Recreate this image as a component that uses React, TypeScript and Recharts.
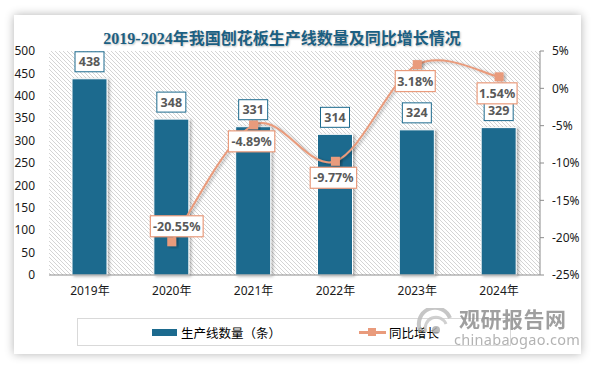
import { ComposedChart, Bar, Line, XAxis, YAxis, CartesianGrid, Legend } from 'recharts'

const years = ['2019年', '2020年', '2021年', '2022年', '2023年', '2024年']
const lineCounts = [438, 348, 331, 314, 324, 329]
const growth = [null, -20.55, -4.89, -9.77, 3.18, 1.54]
const leftTicks = [0, 50, 100, 150, 200, 250, 300, 350, 400, 450, 500]
const rightTicks = [-25, -20, -15, -10, -5, 0, 5]

const data = years.map((year, i) => ({ year, count: lineCounts[i], growth: growth[i] }))

const BAR = '#1c6a8e'
const LINE = '#e99b7c'
const FONT = "'Noto Sans', 'Noto Sans CJK SC', sans-serif"
// growth labels that sit above their point
const labelAbove = [1]

// office-style smoothed line (catmull-rom through the points)
function smoothCurve(context: any) {
  let pts: number[][] = []
  return {
    areaStart() {},
    areaEnd() {},
    lineStart() { pts = [] },
    point(x: number, y: number) { pts.push([+x, +y]) },
    lineEnd() {
      const n = pts.length
      if (!n) return
      context.moveTo(pts[0][0], pts[0][1])
      for (let i = 0; i < n - 1; i++) {
        const p0 = pts[i - 1] || pts[i]
        const p1 = pts[i]
        const p2 = pts[i + 1]
        const p3 = pts[i + 2] || pts[i + 1]
        context.bezierCurveTo(
          p1[0] + (p2[0] - p0[0]) / 6, p1[1] + (p2[1] - p0[1]) / 6,
          p2[0] - (p3[0] - p1[0]) / 6, p2[1] - (p3[1] - p1[1]) / 6,
          p2[0], p2[1]
        )
      }
    },
  }
}

function BarShape(props: any) {
  const { x, y, width, height } = props
  return <rect x={x} y={y} width={width} height={height} fill={BAR} stroke="#fff" strokeWidth={1} filter="url(#shadow)" />
}

function BarLabel(props: any) {
  const { x, y, width, value } = props
  const w = String(value).length * 7 + 8
  const h = 20
  const cx = x + width / 2
  const top = y - 7 - h
  return (
    <g>
      <rect x={cx - w / 2} y={top} width={w} height={h} fill="#fff" stroke={BAR} strokeWidth={1} />
      <text x={cx} y={top + h / 2 + 4.5} textAnchor="middle" fontSize={12.5} fontWeight="bold" fill="#595959" fontFamily={FONT}>{value}</text>
    </g>
  )
}

function GrowthLabel(props: any) {
  const { x, y, value, index } = props
  if (value == null || x == null || y == null) return null
  const txt = `${value.toFixed(2)}%`
  const w = txt.length * 6.4 + 8
  const h = 21
  const above = labelAbove.includes(index)
  const cx = above ? x + 5 : x - 2
  const top = above ? y - 5 - h : y + 6
  return (
    <g>
      <rect x={cx - w / 2} y={top} width={w} height={h} fill="#fff" stroke={LINE} strokeWidth={1.2} />
      <text x={cx} y={top + h / 2 + 4.5} textAnchor="middle" fontSize={12.5} fontWeight="bold" fill="#595959" fontFamily={FONT}>{txt}</text>
    </g>
  )
}

function SquareDot(props: any) {
  const { cx, cy } = props
  if (cx == null || cy == null) return null
  return <rect x={cx - 4.5} y={cy - 4.5} width={9} height={9} fill={LINE} filter="url(#shadow)" />
}

function LegendBox() {
  return (
    <div style={{ boxSizing: 'border-box', height: 28, border: '1px solid #d9d9d9', position: 'relative', fontFamily: FONT, fontSize: 12.5, color: '#000' }}>
      <div style={{ position: 'absolute', left: 74, top: 10, width: 25, height: 7, background: BAR }} />
      <span style={{ position: 'absolute', left: 103, top: 4 }}>生产线数量（条）</span>
      <div style={{ position: 'absolute', left: 281, top: 12, width: 27, height: 2.5, background: LINE }} />
      <div style={{ position: 'absolute', left: 290, top: 9, width: 8, height: 8, background: LINE }} />
      <span style={{ position: 'absolute', left: 311, top: 4 }}>同比增长</span>
    </div>
  )
}

export default function App() {
  return (
    <div style={{ position: 'absolute', left: 0, top: 0, width: 594, height: 366, background: '#fff', overflow: 'hidden' }}>
      <div style={{ position: 'absolute', left: 14, top: 15, width: 567, height: 339, background: '#fff', boxShadow: '0 0 9px rgba(0,0,0,0.3)' }} />
      <div style={{ position: 'absolute', left: 0, top: 25, width: 564, textAlign: 'center', fontFamily: "'Liberation Serif', 'Noto Sans CJK SC', serif", fontWeight: 'bold', fontSize: 16, color: '#1b5f82', textShadow: '1px 1px 2px rgba(0,0,0,0.25)' }}>
        2019-2024年我国刨花板生产线数量及同比增长情况
      </div>
      <div style={{ position: 'absolute', left: 0, top: 0 }}>
        <ComposedChart width={594} height={366} data={data} margin={{ top: 51, right: 0, left: 0, bottom: 20 }}>
          <defs>
            <pattern id="hatch" patternUnits="userSpaceOnUse" width={4} height={4}>
              <rect width={4} height={4} fill="#fff" />
              <path d="M-1,-1 L5,5 M-1,3 L1,5 M3,-1 L5,1" stroke="#d4d4d4" strokeWidth={1} />
            </pattern>
            <filter id="shadow" x="-30%" y="-30%" width="160%" height="160%">
              <feDropShadow dx={2} dy={1} stdDeviation={1.5} floodColor="#000" floodOpacity={0.3} />
            </filter>
          </defs>
          <CartesianGrid horizontal={false} vertical={false} fill="url(#hatch)" />
          <XAxis dataKey="year" height={43} tickLine={false} tickSize={0} tickMargin={11} axisLine={{ stroke: '#8c8c8c' }} tick={{ fontSize: 12, fill: '#1a1a1a', fontFamily: FONT }} />
          <YAxis yAxisId="left" width={49} domain={[0, 500]} ticks={leftTicks} axisLine={false} tickLine={false} tickSize={0} tickMargin={14} tick={{ fontSize: 12, fill: '#1a1a1a', fontFamily: FONT }} />
          <YAxis yAxisId="right" orientation="right" width={54} domain={[-25, 5]} ticks={rightTicks} tickFormatter={(v: number) => `${v}%`} axisLine={{ stroke: '#8c8c8c' }} tickLine={{ stroke: '#8c8c8c' }} tickSize={4} tickMargin={8} tick={{ fontSize: 12, fill: '#1a1a1a', fontFamily: FONT, textAnchor: 'start' }} />
          <Legend verticalAlign="bottom" wrapperStyle={{ left: 77, width: 434 }} content={() => <LegendBox />} />
          <Bar yAxisId="left" dataKey="count" name="生产线数量（条）" barSize={35} shape={<BarShape />} label={<BarLabel />} isAnimationActive={false} />
          <Line yAxisId="right" dataKey="growth" name="同比增长" type={smoothCurve as any} stroke={LINE} strokeWidth={2} filter="url(#shadow)" dot={<SquareDot />} activeDot={false} label={<GrowthLabel />} isAnimationActive={false} />
        </ComposedChart>
      </div>
      <div style={{ position: 'absolute', left: 414, top: 305, width: 160, height: 45, opacity: 0.85, pointerEvents: 'none' }}>
        <svg width={40} height={30} style={{ position: 'absolute', left: 2, top: 3 }}>
          <path d="M4,22 A15,15 0 0 1 34,10" fill="none" stroke="#bdbdbd" strokeWidth={4} />
          <path d="M10,24 A10,10 0 0 1 30,16" fill="none" stroke="#c8c8c8" strokeWidth={3} />
          <circle cx={20} cy={22} r={4} fill="#b0b0b0" />
        </svg>
        <div style={{ position: 'absolute', left: 45, top: 0, fontFamily: "'Noto Sans CJK SC', sans-serif", fontWeight: 'bold', fontSize: 21, color: '#8f8f8f', letterSpacing: 0.5, lineHeight: '26px' }}>观研报告网</div>
        <div style={{ position: 'absolute', left: 40, top: 25, fontFamily: FONT, fontSize: 14.5, color: '#a6a6a6', lineHeight: '18px', letterSpacing: 0.3 }}>chinabaogao.com</div>
      </div>
    </div>
  )
}
